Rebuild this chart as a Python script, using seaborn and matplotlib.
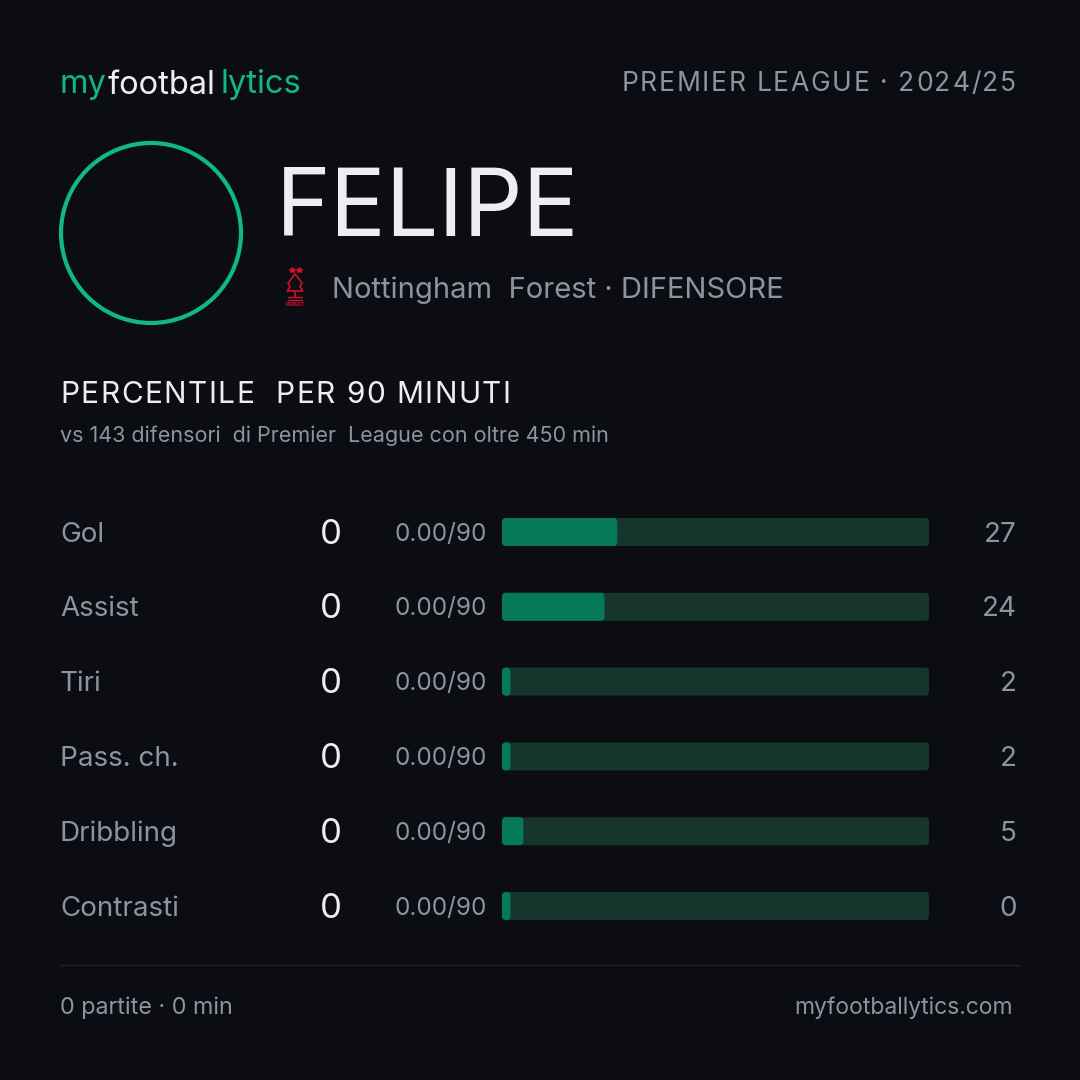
import numpy as np
import pandas as pd
import matplotlib
matplotlib.use("Agg")
import matplotlib.pyplot as plt
import seaborn as sns
from matplotlib.patches import Circle, FancyBboxPatch, Polygon

# data
labels = ["Gol", "Assist", "Tiri", "Pass. ch.", "Dribbling", "Contrasti"]
values = ["0", "0", "0", "0", "0", "0"]
per90 = ["0.00/90", "0.00/90", "0.00/90", "0.00/90", "0.00/90", "0.00/90"]
percentiles = [27, 24, 2, 2, 5, 0]
player = "FELIPE"
team_line = "Nottingham  Forest · DIFENSORE"
league = "PREMIER LEAGUE · 2024/25"
title = "PERCENTILE  PER 90 MINUTI"
subtitle = "vs 143 difensori  di Premier  League con oltre 450 min"
footer_left = "0 partite · 0 min"
footer_right = "myfootballytics.com"

BG = "#0b0d12"
GREEN = "#10b981"
FILL = "#067a58"
TRACK = "#16362b"
WHITE = "#eceef2"
GREY = "#8b94a3"
RED = "#d0102a"

sns.set_theme(style="dark")
plt.rcParams["font.family"] = ["Inter", "DejaVu Sans"]

fig = plt.figure(figsize=(10.8, 10.8), dpi=100, facecolor=BG)
ax = fig.add_axes([0, 0, 1, 1])
ax.set_xlim(0, 1080)
ax.set_ylim(1080, 0)
ax.set_facecolor(BG)
ax.axis("off")
fig.canvas.draw()
r = fig.canvas.get_renderer()


def width_px(s, size):
    t = ax.text(0, 0, s, fontsize=size)
    w = t.get_window_extent(renderer=r).width
    t.remove()
    return w


def right_of(t, gap=0):
    bb = t.get_window_extent(renderer=r)
    return ax.transData.inverted().transform((bb.x1, bb.y0))[0] + gap


def spaced(x, y, s, size, color, track, ha="left"):
    # draw text with extra letter spacing (px)
    adv = [width_px(s[:i + 1], size) - width_px(s[:i], size) if i else width_px(s[0], size)
           for i in range(len(s))]
    total = sum(adv) + track * (len(s) - 1)
    cx = x - total if ha == "right" else x
    for ch, a in zip(s, adv):
        if ch != " ":
            ax.text(cx, y, ch, fontsize=size, color=color, va="center", ha="left")
        cx += a + track


# header
t1 = ax.text(60, 85, "my", color=GREEN, fontsize=23.5, va="center", ha="left")
t2 = ax.text(right_of(t1, 1), 85, "footbal", color=WHITE, fontsize=23.5, va="center", ha="left")
ax.text(right_of(t2, 5), 85, "lytics", color=GREEN, fontsize=23.5, va="center", ha="left")
spaced(1016, 84, league, 19, GREY, 1.7, ha="right")

# avatar circle
ax.add_patch(Circle((151, 233), 90, fill=False, ec=GREEN, lw=3))

ax.text(276, 212, player, color=WHITE, fontsize=67, va="center", ha="left")

# small crest
ax.plot([291.5, 298.5], [270, 270], ls="none", marker="*", ms=4, color=RED)
tree = Polygon([(295, 274), (302, 283), (300, 287), (303, 291), (287, 291), (290, 287),
                (288, 283)], closed=True, fill=False, ec=RED, lw=1.2)
ax.add_patch(tree)
ax.plot([295, 295], [291, 297], color=RED, lw=1.2)
ax.plot([288, 302], [297, 297], color=RED, lw=1)
ax.plot([288, 302], [300, 300], color=RED, lw=1)
ax.text(295, 305, "FOREST", color=RED, fontsize=3.5, ha="center", va="center", fontweight="bold")

ax.text(332, 290, team_line, color=GREY, fontsize=21, va="center", ha="left")

spaced(60, 395, title, 21.5, WHITE, 1.5)
ax.text(60, 436, subtitle, color=GREY, fontsize=15.5, va="center", ha="left")

# rows
row_y = np.linspace(532, 906, len(labels))
for i, yy in enumerate(row_y):
    ax.text(60, yy + 2.5, labels[i], color=GREY, fontsize=20, va="center", ha="left")
    ax.text(331, yy + 2.5, values[i], color=WHITE, fontsize=25, va="center", ha="center")
    ax.text(487, yy + 2, per90[i], color=GREY, fontsize=17.5, va="center", ha="right")
    ax.text(1017, yy + 2.5, str(percentiles[i]), color=GREY, fontsize=20, va="center", ha="right")

# bars
step = row_y[1] - row_y[0]
top_px = row_y[0] - step / 2
bot_px = row_y[-1] + step / 2
bx0, bx1 = 502, 929
bar_ax = fig.add_axes([bx0 / 1080, (1080 - bot_px) / 1080, (bx1 - bx0) / 1080, (bot_px - top_px) / 1080])
df = pd.DataFrame({"label": labels, "pct": percentiles})
df["track"] = 100
df["shown"] = df["pct"].clip(lower=2)
bar_h = 28 / step
sns.barplot(data=df, x="track", y="label", orient="h", color=TRACK, width=bar_h,
            saturation=1, ax=bar_ax)
sns.barplot(data=df, x="shown", y="label", orient="h", color=FILL, width=bar_h,
            saturation=1, ax=bar_ax)
bar_ax.set_xlim(0, 100)
bar_ax.set_ylim(len(labels) - 0.5, -0.5)
bar_ax.axis("off")
bar_ax.patch.set_alpha(0)

xu = 100 / (bx1 - bx0)
yu = 1 / step
for p in list(bar_ax.patches):
    x0, y0, w, h = p.get_x(), p.get_y(), p.get_width(), p.get_height()
    fc = p.get_facecolor()
    p.remove()
    bar_ax.add_patch(FancyBboxPatch((x0, y0), w, h,
                                    boxstyle=f"round,pad=0,rounding_size={4 * xu}",
                                    mutation_aspect=yu / xu, fc=fc, ec="none"))

# footer
ax.plot([60, 1020], [965, 965], color="#1d2129", lw=1)
ax.text(60, 1008, footer_left, color=GREY, fontsize=16.8, va="center", ha="left")
ax.text(1013, 1008, footer_right, color=GREY, fontsize=16.5, va="center", ha="right")

fig.savefig("out.png", dpi=100, facecolor=BG)
